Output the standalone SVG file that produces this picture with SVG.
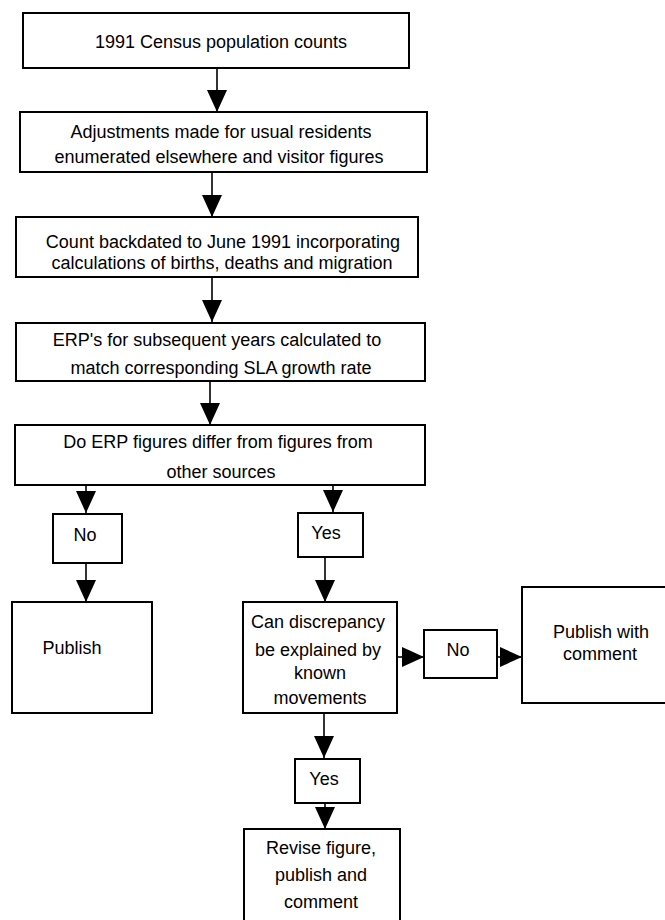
<svg xmlns="http://www.w3.org/2000/svg" width="665" height="920" viewBox="0 0 665 920">
<style>
.box{fill:#fff;stroke:#000;stroke-width:2}
.t{font-family:"Liberation Sans",Arial,sans-serif;font-size:18px;fill:#000;text-anchor:middle}
.c{fill:none;stroke:#000;stroke-width:1.6}
</style>
<defs>
<marker id="ah" viewBox="0 0 22 20" refX="22" refY="10" markerWidth="22" markerHeight="20" markerUnits="userSpaceOnUse" orient="auto">
<path d="M0,0 L22,10 L0,20 Z" fill="#000"/>
</marker>
</defs>
<rect width="665" height="920" fill="#fff"/>
<g id="connectors">
<path class="c" d="M217,68 V112" marker-end="url(#ah)"/>
<path class="c" d="M212,172 V217" marker-end="url(#ah)"/>
<path class="c" d="M212,277 V322" marker-end="url(#ah)"/>
<path class="c" d="M210,381 V425" marker-end="url(#ah)"/>
<path class="c" d="M86,485 V513" marker-end="url(#ah)"/>
<path class="c" d="M333,485 V512" marker-end="url(#ah)"/>
<path class="c" d="M86,563 V602" marker-end="url(#ah)"/>
<path class="c" d="M325,557 V602" marker-end="url(#ah)"/>
<path class="c" d="M397,657 H424" marker-end="url(#ah)"/>
<path class="c" d="M497,657 H522" marker-end="url(#ah)"/>
<path class="c" d="M324,713 V758" marker-end="url(#ah)"/>
<path class="c" d="M325,803 V829" marker-end="url(#ah)"/>
</g>
<g id="census">
<rect class="box" x="23" y="13" width="386" height="55"/>
<text class="t" x="221" y="48">1991 Census population counts</text>
</g>
<g id="adjustments">
<rect class="box" x="20" y="112" width="407" height="60"/>
<text class="t" x="221" y="138">Adjustments made for usual residents</text>
<text class="t" x="219" y="163">enumerated elsewhere and visitor figures</text>
</g>
<g id="backdated">
<rect class="box" x="16" y="217" width="402" height="60"/>
<text class="t" x="223" y="248">Count backdated to June 1991 incorporating</text>
<text class="t" x="222" y="269">calculations of births, deaths and migration</text>
</g>
<g id="erps">
<rect class="box" x="16" y="323" width="409" height="58"/>
<text class="t" x="217" y="346">ERP's for subsequent years calculated to</text>
<text class="t" x="221" y="374">match corresponding SLA growth rate</text>
</g>
<g id="differ">
<rect class="box" x="15" y="425" width="410" height="60"/>
<text class="t" x="218" y="448">Do ERP figures differ from figures from</text>
<text class="t" x="221" y="478">other sources</text>
</g>
<g id="no1">
<rect class="box" x="53" y="514" width="69" height="49"/>
<text class="t" x="85" y="541">No</text>
</g>
<g id="yes1">
<rect class="box" x="298" y="513" width="65" height="44"/>
<text class="t" x="326" y="539">Yes</text>
</g>
<g id="publish">
<rect class="box" x="12" y="602" width="140" height="111"/>
<text class="t" x="72" y="654">Publish</text>
</g>
<g id="discrepancy">
<rect class="box" x="243" y="602" width="154" height="111"/>
<text class="t" x="318" y="628">Can discrepancy</text>
<text class="t" x="318" y="656">be explained by</text>
<text class="t" x="320" y="679">known</text>
<text class="t" x="320" y="704">movements</text>
</g>
<g id="no2">
<rect class="box" x="424" y="630" width="73" height="48"/>
<text class="t" x="458" y="656">No</text>
</g>
<g id="publishcomment">
<rect class="box" x="522" y="587" width="160" height="116"/>
<text class="t" x="601" y="638">Publish with</text>
<text class="t" x="600" y="660">comment</text>
</g>
<g id="yes2">
<rect class="box" x="295" y="759" width="65" height="44"/>
<text class="t" x="324" y="785">Yes</text>
</g>
<g id="revise">
<rect class="box" x="244" y="829" width="156" height="100"/>
<text class="t" x="321" y="854">Revise figure,</text>
<text class="t" x="321" y="881">publish and</text>
<text class="t" x="321" y="908">comment</text>
</g>
</svg>
